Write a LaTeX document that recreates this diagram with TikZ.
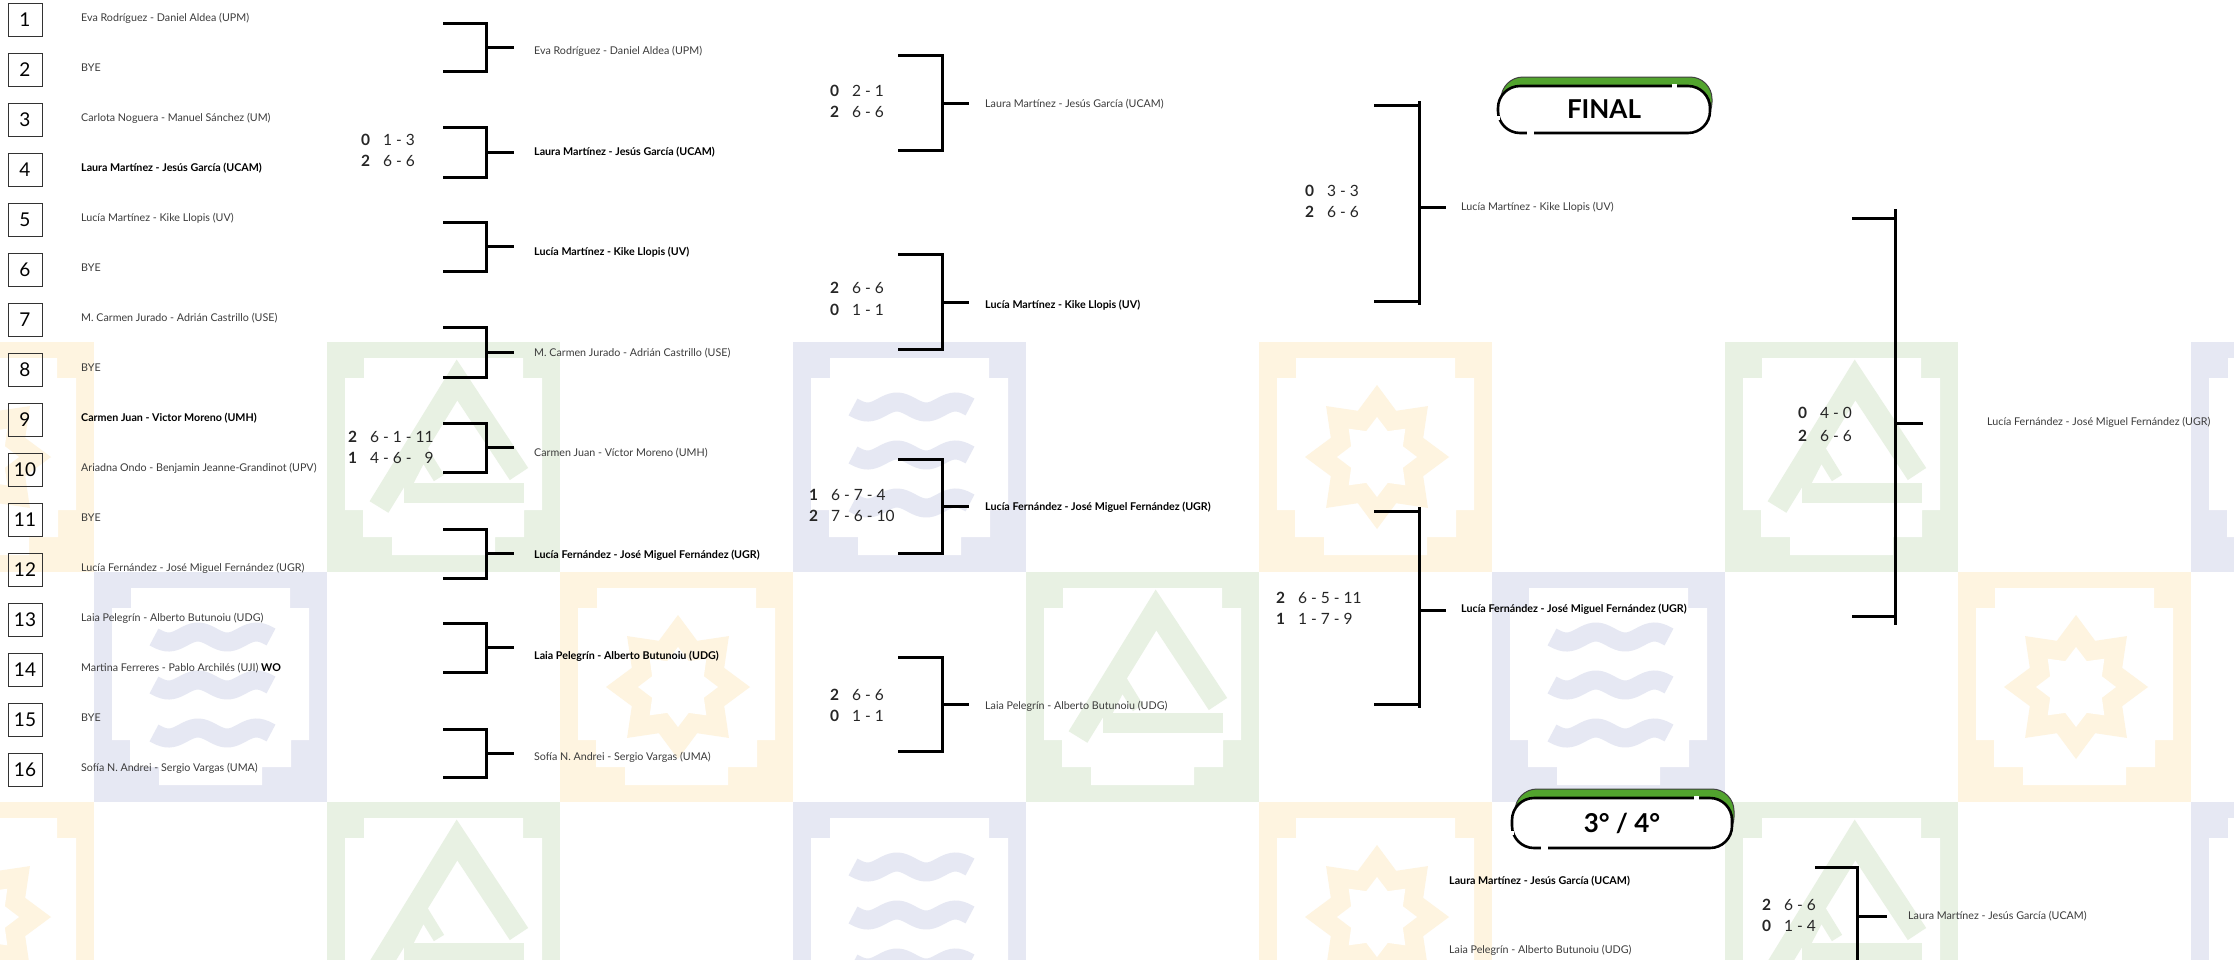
\documentclass[tikz,border=0pt]{standalone}
\usepackage{fontspec}
\setmainfont{Lato}
\definecolor{tY}{RGB}{254,244,224}
\definecolor{tG}{RGB}{232,241,227}
\definecolor{tB}{RGB}{230,232,243}
\definecolor{bgreen}{RGB}{82,164,46}
\definecolor{nmgray}{RGB}{60,60,60}
\tikzset{
  nm/.style={anchor=west, inner sep=0pt, font=\fontsize{10.7}{12}\selectfont, text=nmgray},
  nmb/.style={anchor=west, inner sep=0pt, font=\fontsize{10.7}{12}\selectfont\bfseries, text=black},
  sc/.style={anchor=west, inner sep=0pt, font=\fontsize{15.5}{18}\selectfont, text=black!85},
  numbox/.style={draw=black!80, line width=0.9pt, minimum width=34pt, minimum height=33pt, inner sep=0pt, font=\fontsize{19}{20}\selectfont},
  bracket/.style={draw=black, line width=3pt, line join=miter},
  badgetxt/.style={inner sep=0pt, font=\fontsize{26}{28}\selectfont\bfseries, text=black}
}
\newcommand{\sco}[2]{\textbf{#1}\hspace{13pt}#2}
\newcommand{\tileframe}[1]{%
  \fill[#1] (0,0) rectangle (233,230);
  \fill[white] (37,16) -- (196,16) -- (196,36) -- (215,36) -- (215,168) -- (197,168) -- (197,195) -- (168,195) -- (168,213) -- (65,213) -- (65,195) -- (36,195) -- (36,168) -- (18,168) -- (18,36) -- (37,36) -- cycle;}
\newcommand{\tileY}[2]{\begin{scope}[shift={(#1,#2)}]\tileframe{tY}
  \fill[tY] plot[variable=\k, samples at={0,1,...,15}] ({118+(72-22*mod(\k,2))*cos(90+22.5*\k)},{115+(72-22*mod(\k,2))*sin(90+22.5*\k)}) -- cycle;
  \fill[white] plot[variable=\k, samples at={0,1,...,15}] ({118+(40-12*mod(\k,2))*cos(90+22.5*\k)},{115+(40-12*mod(\k,2))*sin(90+22.5*\k)}) -- cycle;
\end{scope}}
\newcommand{\tileG}[2]{\begin{scope}[shift={(#1,#2)}]\tileframe{tG}
  \draw[tG, line width=22pt, line join=miter] (52,165) -- (130,38) -- (192,132);
  \fill[tG] (77,141) rectangle (197,161);
  \draw[tG, line width=12pt] (80,141) -- (96,110) -- (112,136);
\end{scope}}
\newcommand{\tileB}[2]{\begin{scope}[shift={(#1,#2)}]\tileframe{tB}
  \foreach \c in {65,113,161} {\draw[tB, line width=19pt] plot[domain=60:177, samples=40] (\x,{\c+5*sin((\x-60)*6.15)});}
\end{scope}}
% bracket: #1 name, #2 x left, #3 x vertical, #4 x stub end, #5 top, #6 bottom, #7 stub y, #8 overshoot
\newcommand{\brk}[8]{%
  \coordinate (#1t) at (#2,#5);
  \coordinate (#1b) at (#2,#6);
  \coordinate (#1m) at (#3,#7);
  \coordinate (#1o) at (#4,#7);
  \coordinate (#1vt) at (#3,{#5-#8});
  \coordinate (#1vb) at (#3,{#6+#8});
  \draw[bracket] (#1t) -| (#1m) |- (#1b);
  \draw[bracket] (#1vt) -- (#1vb);
  \draw[bracket] (#1m) -- (#1o);}
% badge: #1 name, #2 x1, #3 y top, #4 x2, #5 y bottom, #6 text
\newcommand{\badge}[6]{%
  \draw[fill=bgreen, draw=black!75, line width=1pt, rounded corners=22pt] ({#2+3},#3) rectangle ({#4+2},{#5-9});
  \draw[fill=white, draw=black, line width=2.6pt, rounded corners=22pt] (#2,{#3+9}) rectangle (#4,#5);
  \fill[white] ({#2+29},{#5-2}) rectangle ({#2+36},{#5+2});
  \fill[white] ({#4-38},{#3+7}) rectangle ({#4-33},{#3+11});
  \fill[white] ({#2-2},{#5-17}) rectangle ({#2+2},{#5-13});
  \node[badgetxt] (#1) at ({(#2+#4)/2},{(#3+9+#5)/2}) {#6};}

\begin{document}
\begin{tikzpicture}[x=1pt,y=-1pt]
\useasboundingbox (0,0) rectangle (2234,959);
\fill[white] (0,0) rectangle (2234,959);
% background tiles
\begin{scope}
\clip (0,342) rectangle (2234,959);
\tileY{-139}{342} \tileG{327}{342} \tileB{793}{342} \tileY{1259}{342} \tileG{1725}{342} \tileB{2191}{342}
\tileB{94}{572} \tileY{560}{572} \tileG{1026}{572} \tileB{1492}{572} \tileY{1958}{572}
\tileY{-139}{802} \tileG{327}{802} \tileB{793}{802} \tileY{1259}{802} \tileG{1725}{802} \tileB{2191}{802}
\end{scope}

% seed boxes and entries
\foreach \i in {1,...,16} {\node[numbox] (b\i) at (25,{19.5+50*(\i-1)}) {\i};}
\node[nm]  (e1)  at (81,18)  {Eva Rodríguez - Daniel Aldea (UPM)};
\node[nm]  (e2)  at (81,68)  {BYE};
\node[nm]  (e3)  at (81,118) {Carlota Noguera - Manuel Sánchez (UM)};
\node[nmb] (e4)  at (81,168) {Laura Martínez - Jesús García (UCAM)};
\node[nm]  (e5)  at (81,218) {Lucía Martínez - Kike Llopis (UV)};
\node[nm]  (e6)  at (81,268) {BYE};
\node[nm]  (e7)  at (81,318) {M. Carmen Jurado - Adrián Castrillo (USE)};
\node[nm]  (e8)  at (81,368) {BYE};
\node[nmb] (e9)  at (81,418) {Carmen Juan - Victor Moreno (UMH)};
\node[nm]  (e10) at (81,468) {Ariadna Ondo - Benjamin Jeanne-Grandinot (UPV)};
\node[nm]  (e11) at (81,518) {BYE};
\node[nm]  (e12) at (81,568) {Lucía Fernández - José Miguel Fernández (UGR)};
\node[nm]  (e13) at (81,618) {Laia Pelegrín - Alberto Butunoiu (UDG)};
\node[nm]  (e14) at (81,668) {Martina Ferreres - Pablo Archilés (UJI) \textcolor{black}{\bfseries WO}};
\node[nm]  (e15) at (81,718) {BYE};
\node[nm]  (e16) at (81,768) {Sofía N. Andrei - Sergio Vargas (UMA)};

% round 1 brackets
\brk{ra}{443}{486}{514}{23}{71}{47}{0}
\brk{rb}{443}{486}{514}{127}{177}{152}{0}
\brk{rc}{443}{486}{514}{222}{271}{246.5}{0}
\brk{rd}{443}{486}{514}{327}{377}{352}{0}
\brk{re}{443}{486}{514}{423}{472}{447.5}{0}
\brk{rf}{443}{486}{514}{529}{578}{553.5}{0}
\brk{rg}{443}{486}{514}{623}{672}{647.5}{0}
\brk{rh}{443}{486}{514}{729}{777}{753}{0}

\node[sc] (s1a) at (361,140) {\sco{0}{1 - 3}};
\node[sc] (s1b) at (361,161) {\sco{2}{6 - 6}};
\node[sc] (s2a) at (348,437) {\sco{2}{6 - 1 - 11}};
\node[sc] (s2b) at (348,458) {\sco{1}{4 - 6 - \phantom{1}9}};

% round 2 entries
\node[nm]  (q1) at (534,51)  {Eva Rodríguez - Daniel Aldea (UPM)};
\node[nmb] (q2) at (534,152) {Laura Martínez - Jesús García (UCAM)};
\node[nmb] (q3) at (534,252) {Lucía Martínez - Kike Llopis (UV)};
\node[nm]  (q4) at (534,353) {M. Carmen Jurado - Adrián Castrillo (USE)};
\node[nm]  (q5) at (534,453) {Carmen Juan - Víctor Moreno (UMH)};
\node[nmb] (q6) at (534,555) {Lucía Fernández - José Miguel Fernández (UGR)};
\node[nmb] (q7) at (534,656) {Laia Pelegrín - Alberto Butunoiu (UDG)};
\node[nm]  (q8) at (534,757) {Sofía N. Andrei - Sergio Vargas (UMA)};

% round 2 brackets
\brk{qa}{898}{942}{969}{55}{150}{103}{0}
\brk{qb}{898}{942}{969}{254}{349}{302}{0}
\brk{qc}{898}{942}{969}{459}{553}{506}{0}
\brk{qd}{898}{942}{969}{657}{751}{704}{0}

\node[sc] (t1a) at (830,91)  {\sco{0}{2 - 1}};
\node[sc] (t1b) at (830,112) {\sco{2}{6 - 6}};
\node[sc] (t2a) at (830,288) {\sco{2}{6 - 6}};
\node[sc] (t2b) at (830,310) {\sco{0}{1 - 1}};
\node[sc] (t3a) at (809,495) {\sco{1}{6 - 7 - 4}};
\node[sc] (t3b) at (809,516) {\sco{2}{7 - 6 - 10}};
\node[sc] (t4a) at (830,695) {\sco{2}{6 - 6}};
\node[sc] (t4b) at (830,716) {\sco{0}{1 - 1}};

% semifinal entries
\node[nm]  (h1) at (985,104) {Laura Martínez - Jesús García (UCAM)};
\node[nmb] (h2) at (985,305) {Lucía Martínez - Kike Llopis (UV)};
\node[nmb] (h3) at (985,507) {Lucía Fernández - José Miguel Fernández (UGR)};
\node[nm]  (h4) at (985,706) {Laia Pelegrín - Alberto Butunoiu (UDG)};

% semifinal brackets
\brk{sa}{1374}{1419}{1446}{105}{301}{207}{4}
\brk{sb}{1374}{1419}{1446}{511}{704}{610}{4}
\node[sc] (u1a) at (1305,191) {\sco{0}{3 - 3}};
\node[sc] (u1b) at (1305,212) {\sco{2}{6 - 6}};
\node[sc] (u2a) at (1276,598) {\sco{2}{6 - 5 - 11}};
\node[sc] (u2b) at (1276,619) {\sco{1}{1 - 7 - 9}};

% finalists
\node[nm]  (f1) at (1461,207) {Lucía Martínez - Kike Llopis (UV)};
\node[nmb] (f2) at (1461,609) {Lucía Fernández - José Miguel Fernández (UGR)};

% final
\badge{fin}{1498}{77}{1710}{133}{FINAL}
\brk{fa}{1852}{1895}{1923}{218}{616}{423}{9}
\node[sc] (v1a) at (1798,413) {\sco{0}{4 - 0}};
\node[sc] (v1b) at (1798,436) {\sco{2}{6 - 6}};
\node[nm] (champ) at (1987,422) {Lucía Fernández - José Miguel Fernández (UGR)};

% third / fourth place
\badge{tf}{1512}{789}{1732}{848}{3° / 4°}
\node[nmb] (g1) at (1449,881) {Laura Martínez - Jesús García (UCAM)};
\node[nm]  (g2) at (1449,950) {Laia Pelegrín - Alberto Butunoiu (UDG)};
\brk{ga}{1815}{1857}{1887}{867}{1000}{916}{0}
\node[sc] (w1a) at (1762,905) {\sco{2}{6 - 6}};
\node[sc] (w1b) at (1762,926) {\sco{0}{1 - 4}};
\node[nm] (third) at (1908,916) {Laura Martínez - Jesús García (UCAM)};
\end{tikzpicture}
\end{document}
